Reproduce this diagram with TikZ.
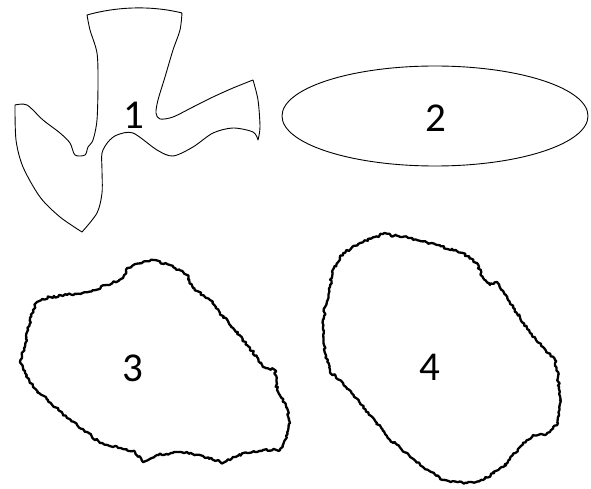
\documentclass[tikz,border=0pt]{standalone}
\usepackage{fontspec}
\setmainfont{Carlito}
\usetikzlibrary{decorations.pathmorphing}
\begin{document}
\begin{tikzpicture}[x=1pt,y=-1pt,
  thinline/.style={draw=black,line width=0.9pt,line join=round},
  roughline/.style={draw=black,line width=2.3pt,line join=round,
    decorate,decoration={random steps,segment length=2pt,amplitude=1.2pt}},
  lbl/.style={font=\fontsize{41}{43}\selectfont,inner sep=0pt}]
\useasboundingbox (0,0) rectangle (591,489);
\pgfmathsetseed{7}
% shape 1
\draw[thinline] (87,15) .. controls (115,7) and (150,5) .. (182,13)
  -- plot[smooth,tension=0.5] coordinates {(182,13) (180,30) (173,50) (165,77) (158,100) (156,113) (160,119) (173,117)
    (193,107) (213,97) (233,88) (253,80)}
  -- plot[smooth,tension=0.5] coordinates {(253,80) (258,100) (260,127) (258,140)}
  -- plot[smooth,tension=0.5] coordinates {(258,140) (253,132) (233,128) (213,133) (193,147) (173,156)
    (157,150) (133,133) (117,135) (108,142) (102,153) (102,170) (102,193) (97,213) (82,232)}
  -- plot[smooth,tension=0.5] coordinates {(82,232) (60,217) (40,197) (23,167) (16,140) (15,105)}
  -- plot[smooth,tension=0.5] coordinates {(15,105) (27,105) (43,120) (60,133) (70,143) (75,155)
    (85,155) (88,147) (93,140) (97,120) (98,83) (97,53) (90,30) (87,15)}
  -- cycle;
\node[lbl] (l1) at (134,115) {1};
% shape 2
\draw[thinline] (435,116) ellipse [x radius=153, y radius=50];
\node[lbl] (l2) at (436,118) {2};
% shape 3
\draw[roughline] (20,362) -- (25,347) -- (28,330) -- (33,310) -- (37,302)
  -- (50,297) -- (67,295) -- (88,292) -- (107,285) -- (123,278) -- (128,268)
  -- (143,262) -- (155,260) -- (173,267) -- (187,275) -- (193,288)
  -- (210,300) -- (220,313) -- (233,328) -- (247,345) -- (257,357)
  -- (263,367) -- (275,370) -- (277,390) -- (285,403) -- (290,423)
  -- (285,440) -- (280,450) -- (263,450) -- (247,453) -- (233,457)
  -- (223,463) -- (200,455) -- (180,452) -- (157,455) -- (143,462)
  -- (135,452) -- (120,448) -- (100,443) -- (87,432) -- (67,418)
  -- (48,400) -- (33,387) -- (25,373) -- cycle;
\node[lbl] (l3) at (133,368) {3};
% shape 4
\draw[roughline] (332,272) -- (343,253) -- (360,243) -- (383,234) -- (410,238)
  -- (437,245) -- (463,253) -- (477,263) -- (483,278) -- (490,285)
  -- (497,282) -- (502,290) -- (510,303) -- (520,317) -- (530,333)
  -- (543,347) -- (555,360) -- (558,377) -- (560,400) -- (558,423)
  -- (545,435) -- (533,435) -- (520,447) -- (503,467) -- (483,480)
  -- (467,483) -- (443,480) -- (423,467) -- (407,453) -- (390,440)
  -- (377,423) -- (360,403) -- (343,383) -- (330,372) -- (325,353)
  -- (323,330) -- (325,307) -- (330,287) -- cycle;
\node[lbl] (l4) at (430,367) {4};
\end{tikzpicture}
\end{document}
